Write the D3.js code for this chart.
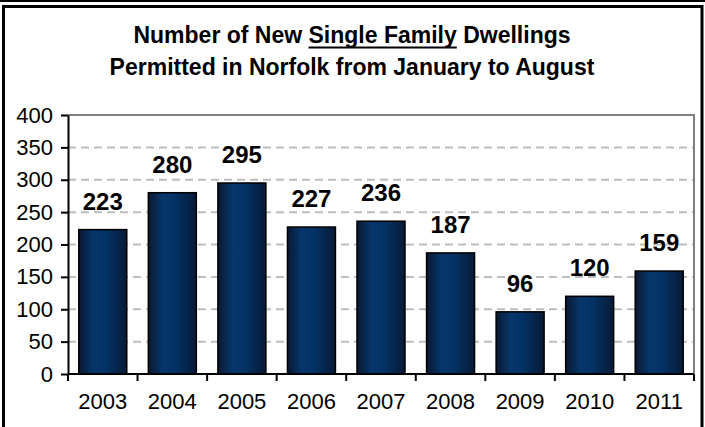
<!DOCTYPE html>
<html>
<head>
<meta charset="utf-8">
<script src="https://cdn.jsdelivr.net/npm/d3@7"></script>
<style>
  html, body { margin: 0; padding: 0; background: #fff; }
  svg { display: block; }
  text { font-family: "Liberation Sans", Arial, sans-serif; }
</style>
</head>
<body>
<svg id="chart" width="705" height="427"></svg>
<script>
const years = ["2003","2004","2005","2006","2007","2008","2009","2010","2011"];
const permits = [223, 280, 295, 227, 236, 187, 96, 120, 159];
const yTicks = [0, 50, 100, 150, 200, 250, 300, 350, 400];
const titleLine1 = ["Number of New ", "Single Family", " Dwellings"];
const titleLine2 = "Permitted in Norfolk from January to August";

const W = 705, H = 427;
const plot = { left: 68, right: 694, top: 115, bottom: 374 };

const svg = d3.select("#chart");

// outer frame pieces
svg.append("line").attr("x1", 0).attr("x2", W).attr("y1", 1).attr("y2", 1)
  .attr("stroke", "#000").attr("stroke-width", 2);
svg.append("rect").attr("x", 3.5).attr("y", 6.5).attr("width", 698.5).attr("height", 440)
  .attr("fill", "#fff").attr("stroke", "#000").attr("stroke-width", 3);

// gradient for bars
const defs = svg.append("defs");
const grad = defs.append("linearGradient").attr("id", "barGrad")
  .attr("x1", "0%").attr("x2", "100%").attr("y1", "0%").attr("y2", "0%");
[["0%", "#0a1830"], ["30%", "#06366b"], ["55%", "#033366"], ["100%", "#081a36"]]
  .forEach(([o, c]) => grad.append("stop").attr("offset", o).attr("stop-color", c));

// title
const title = svg.append("text").attr("text-anchor", "middle")
  .attr("font-weight", "bold").attr("font-size", 23).attr("fill", "#000");
const l1 = title.append("tspan").attr("x", 352).attr("y", 43);
const spans = titleLine1.map(s => l1.append("tspan").text(s));
title.append("tspan").attr("x", 352).attr("y", 75).text(titleLine2);
// underline for "Single Family"
const u = spans[1].node();
const ux = u.getStartPositionOfChar(0).x;
const uw = u.getComputedTextLength();
svg.append("line").attr("x1", ux).attr("x2", ux + uw).attr("y1", 47.5).attr("y2", 47.5)
  .attr("stroke", "#000").attr("stroke-width", 2);

// scales
const x = d3.scaleBand().domain(years).range([plot.left, plot.right]);
const y = d3.scaleLinear().domain([0, 400]).range([plot.bottom, plot.top]);

// gridlines
svg.append("g").selectAll("line").data(yTicks.filter(t => t > 0 && t < 400)).join("line")
  .attr("x1", plot.left).attr("x2", plot.right)
  .attr("y1", d => y(d)).attr("y2", d => y(d))
  .attr("stroke", "#bdbdbd").attr("stroke-width", 2).attr("stroke-dasharray", "8,5");

// plot border top/right
svg.append("path")
  .attr("d", `M${plot.left},${y(400)}H${plot.right}V${plot.bottom}`)
  .attr("fill", "none").attr("stroke", "#808080").attr("stroke-width", 2);

// bars
const bw = x.bandwidth() * 0.69;
svg.append("g").selectAll("rect").data(permits).join("rect")
  .attr("x", (d, i) => x(years[i]) + (x.bandwidth() - bw) / 2)
  .attr("y", d => y(d))
  .attr("width", bw)
  .attr("height", d => y(0) - y(d))
  .attr("fill", "url(#barGrad)")
  .attr("stroke", "#000").attr("stroke-width", 1.5);

// value labels
svg.append("g").selectAll("text").data(permits).join("text")
  .attr("x", (d, i) => x(years[i]) + x.bandwidth() / 2)
  .attr("y", d => y(d) - 20)
  .attr("text-anchor", "middle")
  .attr("font-weight", "bold").attr("font-size", 24).attr("fill", "#000")
  .text(d => d);

// y axis
const yAxis = svg.append("g").attr("transform", `translate(${plot.left},0)`)
  .call(d3.axisLeft(y).tickValues(yTicks).tickSize(7).tickPadding(8).tickSizeOuter(0));
yAxis.select(".domain").attr("stroke", "#000").attr("stroke-width", 2);
yAxis.selectAll(".tick line").attr("stroke", "#000").attr("stroke-width", 2);
yAxis.selectAll(".tick text").attr("font-size", 22).attr("fill", "#000")
  .attr("font-family", "Liberation Sans, Arial, sans-serif");

// x axis with ticks at band boundaries
const xAxis = svg.append("g").attr("transform", `translate(0,${plot.bottom})`);
xAxis.append("line").attr("x1", plot.left).attr("x2", plot.right).attr("y1", 0).attr("y2", 0)
  .attr("stroke", "#000").attr("stroke-width", 2);
const bounds = years.map(yr => x(yr)).concat([plot.right]);
xAxis.selectAll("line.tk").data(bounds).join("line").attr("class", "tk")
  .attr("x1", d => d).attr("x2", d => d).attr("y1", 0).attr("y2", 7)
  .attr("stroke", "#000").attr("stroke-width", 2);
xAxis.selectAll("text").data(years).join("text")
  .attr("x", d => x(d) + x.bandwidth() / 2).attr("y", 35)
  .attr("text-anchor", "middle").attr("font-size", 22).attr("fill", "#000")
  .text(d => d);
</script>
</body>
</html>
